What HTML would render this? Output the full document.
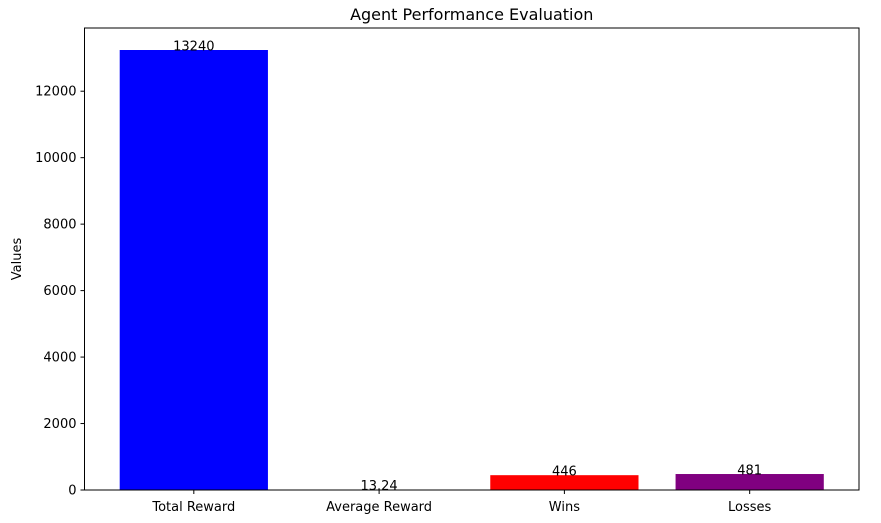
<!DOCTYPE html>
<html><head><meta charset="utf-8"><style>
body{margin:0;background:#fff;}
svg{font-family:"DejaVu Sans","Liberation Sans",sans-serif;}
</style></head><body>
<svg id="chart" width="881" height="518"></svg>
<script>
const categories=["Total Reward","Average Reward","Wins","Losses"];
const values=[13240,13.24,446,481];
const labels=["13240","13.24","446","481"];
const colors=["#0000ff","#008000","#ff0000","#800080"];
const yTicks=[0,2000,4000,6000,8000,10000,12000];
const L=84.5,R=859,T=28,B=490;
const xmin=-0.59,xmax=3.59,ymax=13902;
const sx=v=>L+(v-xmin)/(xmax-xmin)*(R-L);
const sy=v=>B-v/ymax*(B-T);
const svg=document.getElementById('chart');
const NS='http://www.w3.org/2000/svg';
function mk(t,a,txt){const e=document.createElementNS(NS,t);for(const k in a)e.setAttribute(k,a[k]);if(txt!==undefined)e.textContent=txt;svg.appendChild(e);return e;}
categories.forEach((c,i)=>{
 const x0=sx(i-0.4),x1=sx(i+0.4);
 const r=mk('rect',{x:x0,y:sy(values[i]),width:x1-x0,height:B-sy(values[i]),fill:colors[i]});
 
 
 const t=mk('text',{x:sx(i),y:sy(values[i])+0.5,'text-anchor':'middle','font-size':13,fill:'#000'},labels[i]);
 
 
 mk('line',{x1:sx(i),x2:sx(i),y1:B,y2:B+4,stroke:'#000'});
 const xl=mk('text',{x:sx(i),y:B+21,'text-anchor':'middle','font-size':13},c);
 
 
});
yTicks.forEach(v=>{
 mk('line',{x1:L-4,x2:L,y1:sy(v),y2:sy(v),stroke:'#000'});
 const t=mk('text',{x:L-8,y:sy(v)+4.5,'text-anchor':'end','font-size':13},String(v));
 
 
});
const fr=mk('rect',{x:L,y:T,width:R-L,height:B-T,fill:'none',stroke:'#000','stroke-width':1});


const ti=mk('text',{x:(L+R)/2,y:20,'text-anchor':'middle','font-size':16},'Agent Performance Evaluation');


const yt=mk('text',{x:21,y:(T+B)/2,'text-anchor':'middle','font-size':13,transform:`rotate(-90 21 ${(T+B)/2})`},'Values');


</script>
</body></html>
